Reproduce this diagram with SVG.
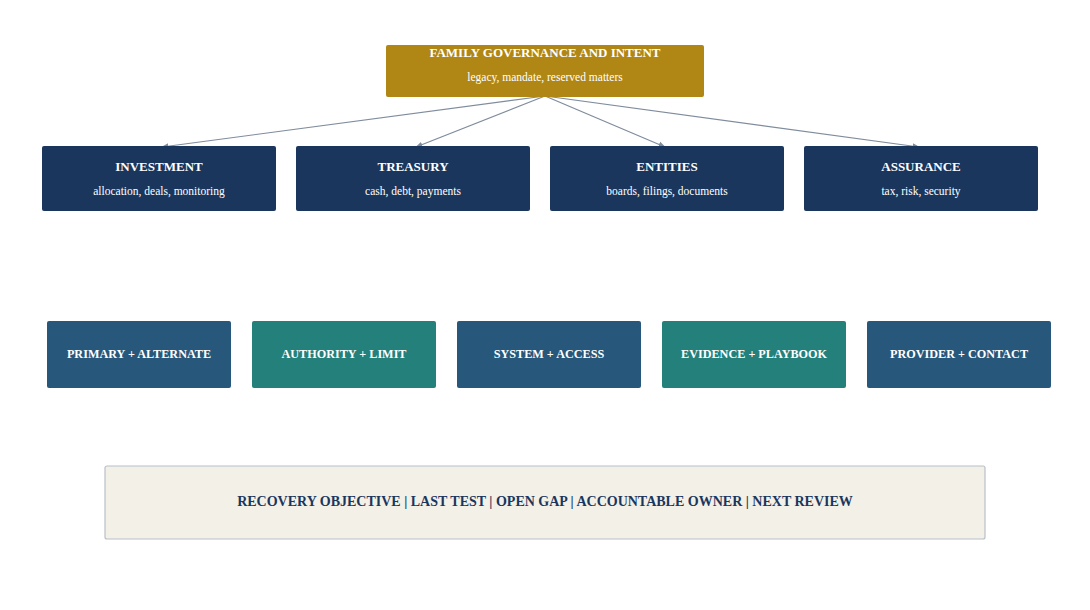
<svg xmlns="http://www.w3.org/2000/svg" width="1090" height="610" viewBox="0 0 1090 610">
<style>
text{font-family:"Liberation Serif","Times New Roman",serif;text-anchor:middle}
.t{fill:#fff;font-weight:bold;font-size:13px}
.r{fill:#fff;font-weight:bold;font-size:12.2px}
.s{fill:#fff;font-size:11.5px}
.c{stroke:#7f8c9c;stroke-width:1.2;fill:none;marker-end:url(#a)}
</style>
<defs><marker id="a" viewBox="0 0 10 10" refX="9" refY="5" markerWidth="6" markerHeight="6" orient="auto"><path d="M0,1 L10,5 L0,9 z" fill="#7f8c9c"/></marker></defs>
<rect width="1090" height="610" fill="#fff"/>
<g id="connectors">
<line class="c" x1="545" y1="96" x2="162" y2="147"/>
<line class="c" x1="545" y1="96" x2="416" y2="147"/>
<line class="c" x1="545" y1="96" x2="665" y2="147"/>
<line class="c" x1="545" y1="96" x2="919" y2="147"/>
</g>
<g id="gov"><rect x="386" y="45" width="318" height="52" rx="2" fill="#b08614"/><text class="t" x="545" y="57">FAMILY GOVERNANCE AND INTENT</text><text class="s" x="545" y="81">legacy, mandate, reserved matters</text></g>
<g id="investment"><rect x="42" y="146" width="234" height="65" rx="2" fill="#1a365d"/><text class="t" x="159" y="171">INVESTMENT</text><text class="s" x="159" y="195">allocation, deals, monitoring</text></g>
<g id="treasury"><rect x="296" y="146" width="234" height="65" rx="2" fill="#1a365d"/><text class="t" x="413" y="171">TREASURY</text><text class="s" x="413" y="195">cash, debt, payments</text></g>
<g id="entities"><rect x="550" y="146" width="234" height="65" rx="2" fill="#1a365d"/><text class="t" x="667" y="171">ENTITIES</text><text class="s" x="667" y="195">boards, filings, documents</text></g>
<g id="assurance"><rect x="804" y="146" width="234" height="65" rx="2" fill="#1a365d"/><text class="t" x="921" y="171">ASSURANCE</text><text class="s" x="921" y="195">tax, risk, security</text></g>
<g id="primary"><rect x="47" y="321" width="184" height="67" rx="2" fill="#27577a"/><text class="r" x="139" y="358">PRIMARY + ALTERNATE</text></g>
<g id="authority"><rect x="252" y="321" width="184" height="67" rx="2" fill="#24807a"/><text class="r" x="344" y="358">AUTHORITY + LIMIT</text></g>
<g id="system"><rect x="457" y="321" width="184" height="67" rx="2" fill="#27577a"/><text class="r" x="549" y="358">SYSTEM + ACCESS</text></g>
<g id="evidence"><rect x="662" y="321" width="184" height="67" rx="2" fill="#24807a"/><text class="r" x="754" y="358">EVIDENCE + PLAYBOOK</text></g>
<g id="provider"><rect x="867" y="321" width="184" height="67" rx="2" fill="#27577a"/><text class="r" x="959" y="358">PROVIDER + CONTACT</text></g>
<g id="summary"><rect x="105" y="466" width="880" height="73" rx="2" fill="#f3f0e8" stroke="#b8c0c8" stroke-width="1.2"/><text x="545" y="506" fill="#1a365d" font-weight="bold" font-size="14px">RECOVERY OBJECTIVE | LAST TEST | OPEN GAP | ACCOUNTABLE OWNER | NEXT REVIEW</text></g>
</svg>
